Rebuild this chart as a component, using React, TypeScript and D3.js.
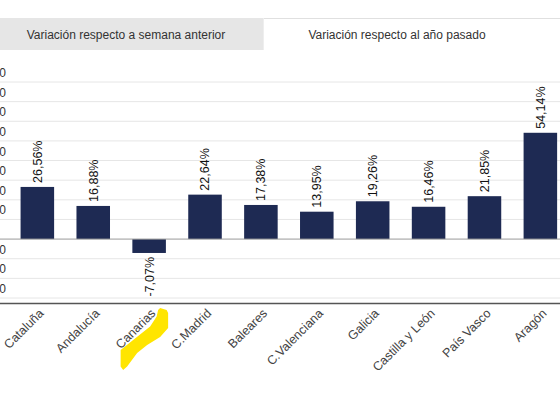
import * as d3 from "d3";

const categories = [
  "Cataluña",
  "Andalucía",
  "Canarias",
  "C.Madrid",
  "Baleares",
  "C.Valenciana",
  "Galicia",
  "Castilla y León",
  "País Vasco",
  "Aragón",
];
const values = [26.56, 16.88, -7.07, 22.64, 17.38, 13.95, 19.26, 16.46, 21.85, 54.14];
const yTicks = [80, 70, 60, 50, 40, 30, 20, 10, 0, -10, -20, -30];
const tabLabels = ["Variación respecto a semana anterior", "Variación respecto al año pasado"];

const W = 560;
const H = 394;
const FONT = "'Liberation Sans', Arial, sans-serif";

// highlighter mark under "Canarias", offsets from the band centre
const marker = [
  [11, 308], [17.5, 310], [19, 313], [19, 328], [11, 337], [-2, 345], [-12, 353],
  [-22, 366.5], [-26, 370], [-28.5, 366.5], [-28.5, 350], [-16, 340], [1, 326.5],
  [7.5, 316.5], [9, 310],
];

const fmt = (v: number) => v.toFixed(2).replace(".", ",") + "%";

export default function App() {
  const x = d3
    .scaleBand<string>()
    .domain(categories)
    .range([9.4, 568.3])
    .paddingInner(0.4)
    .paddingOuter(0.2);
  const y = d3.scaleLinear().domain([-30, 80]).range([298, 82]);
  const cx = (c: string) => (x(c) ?? 0) + x.bandwidth() / 2;
  const line = d3.line().curve(d3.curveLinearClosed);

  return (
    <svg
      width={W}
      height={H}
      style={{ position: "absolute", left: 0, top: 0, background: "#fff" }}
      fontFamily={FONT}
    >
      {/* tabs */}
      <rect x={0} y={18} width={263} height={32} fill="#e6e6e6" />
      <line x1={263} x2={W} y1={18.5} y2={18.5} stroke="#e0e0e0" />
      <line x1={263.5} x2={263.5} y1={18} y2={50} stroke="#eeeeee" />
      <text x={126} y={38.5} textAnchor="middle" fontSize={12} fill="#333">
        {tabLabels[0]}
      </text>
      <text x={397} y={38.5} textAnchor="middle" fontSize={12} fill="#333">
        {tabLabels[1]}
      </text>

      {/* grid + y labels */}
      {yTicks.map((t) => (
        <g key={t}>
          {t !== 0 && (
            <line x1={0} x2={W} y1={y(t)} y2={y(t)} stroke="#e6e6e6" />
          )}
          {t !== 0 && (
            <text x={6} y={y(t) - 5} textAnchor="end" fontSize={12} fill="#333">
              {t}
            </text>
          )}
        </g>
      ))}

      {/* bars */}
      {categories.map((c, i) => {
        const v = values[i];
        return (
          <rect
            key={c}
            x={x(c)}
            y={y(Math.max(0, v))}
            width={x.bandwidth()}
            height={Math.abs(y(v) - y(0))}
            fill="#1e2a53"
          />
        );
      })}
      <line x1={0} x2={W} y1={y(0)} y2={y(0)} stroke="#9a9a9a" />
      <line x1={0} x2={W} y1={303.5} y2={303.5} stroke="#555" strokeWidth={1.5} />

      {/* value labels */}
      {categories.map((c, i) => {
        const v = values[i];
        const px = cx(c);
        const py = v >= 0 ? y(v) - 4 : y(v) + 4;
        return (
          <text
            key={c}
            transform={`translate(${px},${py}) rotate(-90)`}
            textAnchor={v >= 0 ? "start" : "end"}
            dy="0.35em"
            fontSize={12.5}
            fill="#111"
          >
            {fmt(v)}
          </text>
        );
      })}

      {/* highlighter */}
      <path
        d={line(marker.map(([dx, yy]) => [cx("Canarias") + dx, yy] as [number, number]))!}
        fill="#ffe500"
      />

      {/* category labels */}
      {categories.map((c) => (
        <text
          key={c}
          transform={`translate(${cx(c) + 4},${311}) rotate(-45)`}
          textAnchor="end"
          dy="0.35em"
          fontSize={12.5}
          fill="#444"
        >
          {c}
        </text>
      ))}
    </svg>
  );
}
